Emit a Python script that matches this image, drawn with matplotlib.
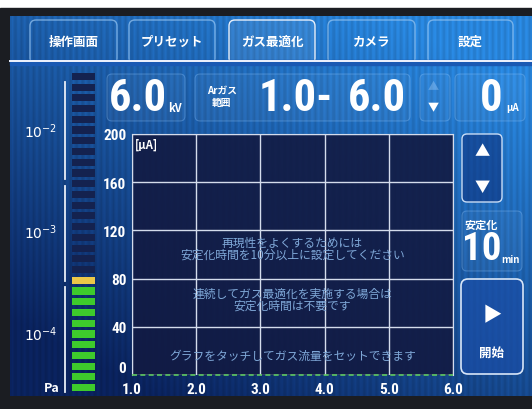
import os
import numpy as np
import matplotlib
matplotlib.use("Agg")
import matplotlib.pyplot as plt
from matplotlib import font_manager as fm
from matplotlib.patches import FancyBboxPatch, Rectangle

plt.rcParams['font.family'] = ['Noto Sans CJK JP', 'DejaVu Sans']

# screen contents
tab_labels = ['操作画面', 'プリセット', 'ガス最適化', 'カメラ', '設定']
active_tab = 2

x_ticks = [1.0, 2.0, 3.0, 4.0, 5.0, 6.0]
y_ticks = [0, 40, 80, 120, 160, 200]
y_unit = '[μA]'

messages = [
    (3.5, 110, '再現性をよくするためには'),
    (3.5, 100, '安定化時間を10分以上に設定してください'),
    (3.5, 68, '連続してガス最適化を実施する場合は'),
    (3.5, 58, '安定化時間は不要です'),
    (3.5, 16, 'グラフをタッチしてガス流量をセットできます'),
]

voltage = '6.0'
gas_low = '1.0'
gas_high = '6.0'
current = '0'
stab_time = '10'

# pressure gauge: 30 segments, bottom 10 green, next yellow
gauge_n = 30
gauge_green = 10
gauge_yellow = 1
pressure_labels = ['$10^{-2}$', '$10^{-3}$', '$10^{-4}$']


# the panel uses a tall narrow digit font; take the narrowest bold one installed
def find_narrow():
    prefs = ['notosans-extracondensedbold', 'notosansextracondensed-bold',
             'robotocondensed-bold', 'notosans-condensedbold', 'notosanscondensed-bold',
             'liberationsansnarrow-bold', 'dejavusanscondensed-bold',
             'opensans-condensedbold', 'opensanscondensed-bold']
    files = {}
    for f in fm.fontManager.ttflist:
        key = os.path.basename(f.fname).lower().replace(' ', '').replace('_', '')
        files[os.path.splitext(key)[0]] = f.fname
    for p in prefs:
        if p in files:
            return fm.FontProperties(fname=files[p])
    for k, v in files.items():
        if ('condensed' in k or 'narrow' in k) and 'bold' in k:
            return fm.FontProperties(fname=v)
    return fm.FontProperties(family='DejaVu Sans', weight='bold', stretch='condensed')


narrow = find_narrow()

W, H = 532, 410
fig = plt.figure(figsize=(W / 100, H / 100), dpi=100)
fig.patch.set_facecolor('white')

# full-figure axes in pixel units (y down)
bg = fig.add_axes([0, 0, 1, 1])
bg.set_xlim(0, W)
bg.set_ylim(H, 0)
bg.axis('off')

# bezel
bg.add_patch(Rectangle((0, 9), W, H - 9, color='#1b1d22', zorder=0))

# blue screen gradient with faint vertical stripes
sx0, sx1, sy0, sy1 = 10, W, 17, 397
xx, yy = np.meshgrid(np.linspace(0, 1, 300), np.linspace(0, 1, 220))
t = np.clip(0.55 * xx + 0.75 * (1 - yy) - 0.15, 0, 1)
stripes = 1 + 0.08 * np.sin(xx * 2 * np.pi * 85)
dark = np.array([10, 34, 92]) / 255
light = np.array([40, 132, 218]) / 255
img = (dark[None, None, :] * (1 - t[..., None]) + light[None, None, :] * t[..., None])
img = np.clip(img * stripes[..., None], 0, 1)
bg.imshow(img, extent=(sx0, sx1, sy1, sy0), aspect='auto', zorder=1,
          interpolation='bilinear')

# tabs
tab_x = [(30, 117), (129, 215), (229, 315), (328, 415), (428, 513)]
for i, (lab, (a, b)) in enumerate(zip(tab_labels, tab_x)):
    if i == active_tab:
        fc, ec = (1, 1, 1, 0.08), (0.95, 0.97, 1, 0.95)
    else:
        fc, ec = (1, 1, 1, 0.0), (0.6, 0.78, 0.95, 0.7)
    bg.add_patch(FancyBboxPatch((a, 21), b - a, 44,
                                boxstyle='round,pad=0,rounding_size=6',
                                fc=fc, ec=ec, lw=1.0, zorder=2))
    bg.text((a + b) / 2, 42, lab, color='white', fontsize=9, fontweight='bold',
            ha='center', va='center', zorder=3)
bg.add_patch(Rectangle((sx0, 61), W - sx0, 5, color=(0.1, 0.35, 0.7), zorder=2.5))
bg.plot([sx0, W], [62, 62], color='#f0f4ff', lw=1.4, zorder=3)

# faint readout boxes
boxes = [(107, 75, 78, 47), (195, 75, 215, 47), (420, 75, 30, 47),
         (455, 75, 70, 47), (462, 212, 60, 60)]
for x, y, w, h in boxes:
    bg.add_patch(FancyBboxPatch((x, y), w, h, boxstyle='round,pad=0,rounding_size=5',
                                fc=(1, 1, 1, 0.04), ec=(0.6, 0.8, 1, 0.3), lw=0.8, zorder=2))

big = dict(color='white', fontproperties=narrow, va='center', zorder=4)
small = dict(color='white', fontweight='bold', va='center', zorder=4)

bg.text(138, 99, voltage, fontsize=32, ha='center', **big)
bg.text(175, 108, 'kV', fontsize=8, ha='center', **small)
bg.text(222, 91, 'Arガス', fontsize=7, ha='center', **small)
bg.text(222, 103, '範囲', fontsize=7, ha='center', **small)
bg.text(296, 99, gas_low + '-', fontsize=32, ha='center', **big)
bg.text(377, 99, gas_high, fontsize=32, ha='center', **big)
bg.text(433, 87, '▲', fontsize=8, ha='center', color=(0.7, 0.85, 1, 0.35), va='center', zorder=4)
bg.text(433, 108, '▼', fontsize=8, ha='center', **small)
bg.text(491, 99, current, fontsize=32, ha='center', **big)
bg.text(513, 108, 'μA', fontsize=7, ha='center', **small)

# up/down button
bg.add_patch(FancyBboxPatch((462, 135), 40, 68, boxstyle='round,pad=0,rounding_size=5',
                            fc=(0.05, 0.2, 0.5, 0.6), ec='#c8dcf5', lw=1.0, zorder=2))
bg.text(482, 151, '▲', fontsize=11, ha='center', **small)
bg.text(482, 187, '▼', fontsize=11, ha='center', **small)

# stabilization time
bg.text(481, 225, '安定化', fontsize=8, ha='center', **small)
bg.text(482, 249, stab_time, fontsize=28, ha='center', **big)
bg.text(511, 260, 'min', fontsize=7, ha='center', **small)

# start button
bg.add_patch(FancyBboxPatch((461, 280), 62, 95, boxstyle='round,pad=0,rounding_size=7',
                            fc=(0.1, 0.3, 0.65, 0.7), ec='#d8e6f8', lw=1.2, zorder=2))
bg.text(492, 316, '▶', fontsize=14, ha='center', **small)
bg.text(492, 353, '開始', fontsize=9, ha='center', **small)

# pressure scale
for y0, y1 in [(83, 180), (187, 282), (288, 393)]:
    bg.plot([65, 65], [y0, y1], color='#e8eef8', lw=1.3, zorder=3)
for lab, y in zip(pressure_labels, [132, 233, 335]):
    bg.text(41, y, lab, fontsize=10, ha='center', **small)
bg.text(52, 389, 'Pa', fontsize=9, ha='center', **small)

# gauge segments
gax = fig.add_axes([72 / W, 1 - 394 / H, 23 / W, 322 / H])
gax.axis('off')
seg_idx = np.arange(gauge_n)
seg_col = np.where(seg_idx < gauge_green, '#3ecb2c',
                   np.where(seg_idx < gauge_green + gauge_yellow, '#ecc848', '#14224f'))
gax.bar(np.zeros(gauge_n), 0.66, width=1, bottom=seg_idx - 0.33, color=seg_col)
gax.set_xlim(-0.5, 0.5)
gax.set_ylim(-0.5, gauge_n - 0.5)

# main graph
ax = fig.add_axes([132 / W, 1 - 376 / H, (453 - 132) / W, (376 - 135) / H])
ax.set_facecolor((0.07, 0.1, 0.26, 0.9))
ax.set_xlim(x_ticks[0], x_ticks[-1])
ax.set_ylim(y_ticks[0], y_ticks[-1])
ax.set_xticks(x_ticks)
ax.set_yticks(y_ticks)
ax.set_xticklabels([f'{v:.1f}' for v in x_ticks])
ax.tick_params(length=0, colors='white')
ax.tick_params(axis='x', pad=5)
ax.tick_params(axis='y', pad=4)
for lab in ax.get_xticklabels() + ax.get_yticklabels():
    lab.set_fontproperties(narrow)
    lab.set_fontsize(11)
ax.get_yticklabels()[0].set_verticalalignment('bottom')
ax.grid(True, color='#d4dcec', lw=1.0)
for side in ['left', 'top', 'right']:
    ax.spines[side].set_color('#d4dcec')
ax.spines['bottom'].set_visible(False)
ax.axhline(0, color='#5ec860', lw=1.2, ls=(0, (3, 2)), zorder=5, clip_on=False)
ax.text(0.01, 0.985, y_unit, transform=ax.transAxes, color='white', fontsize=8,
        fontweight='bold', ha='left', va='top')
for x, y, s in messages:
    ax.text(x, y, s, color='#7fa8d8', fontsize=8.5, ha='center', va='center')

fig.savefig('out.png', dpi=100)
